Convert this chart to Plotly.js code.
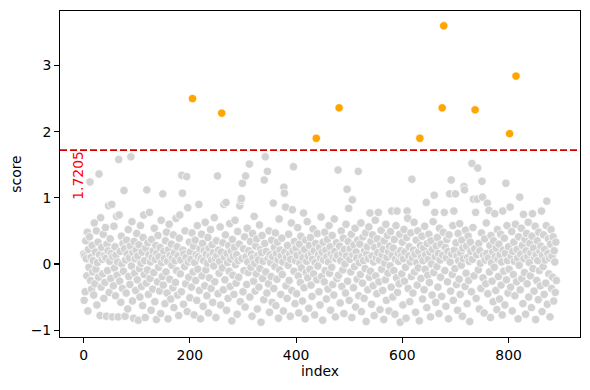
<!DOCTYPE html>
<html>
<head>
<meta charset="utf-8">
<script src="https://cdn.plot.ly/plotly-3.0.1.min.js"></script>
<style>html,body{margin:0;padding:0;background:#fff}#chart{width:590px;height:390px}</style>
</head>
<body>
<div id="chart"></div>
<script>
// score for each row index (0..890)
const scores = [
0.15,-0.55,0.12,-0.42,0.35,0.08,-0.18,0.48,-0.71,0.22,-0.05,0.41,1.24,-0.25,0.10,-0.38,0.28,-0.12,0.05,-0.47,
0.62,-0.30,0.18,-0.08,0.50,-0.62,0.02,0.33,-0.20,1.36,0.14,-0.78,0.70,-0.35,0.25,0.07,-0.15,0.45,-0.52,0.12,
-0.28,0.55,0.09,-0.79,0.30,-0.10,0.20,0.88,-0.43,0.04,0.38,-0.22,0.16,0.90,-0.80,0.11,-0.33,0.57,-0.06,0.26,
-0.48,0.13,0.72,-0.17,0.03,-0.80,1.58,0.74,-0.26,0.19,-0.58,0.42,0.00,-0.37,0.31,-0.11,1.11,0.23,-0.79,0.06,
-0.44,0.36,0.15,-0.68,0.52,-0.19,0.09,-0.31,0.27,1.62,-0.03,0.64,-0.56,0.17,-0.82,0.34,-0.14,0.08,-0.40,0.21,
0.46,-0.24,0.12,-0.85,0.29,-0.07,-0.50,0.58,0.01,-0.34,0.18,-0.63,0.40,0.74,-0.16,0.05,-0.81,0.24,-0.29,1.12,
-0.09,0.32,-0.46,0.14,0.78,-0.22,0.03,-0.70,0.37,0.10,-0.38,0.20,-0.13,0.54,-0.57,0.07,0.28,-0.84,0.16,-0.27,
0.43,-0.05,0.11,-0.41,0.25,-0.75,0.66,0.02,-0.19,1.06,-0.32,0.19,0.08,-0.60,0.35,-0.12,0.48,-0.44,0.04,-0.83,
0.22,0.60,-0.23,0.13,-0.53,0.30,-0.02,0.09,-0.36,0.44,-0.66,0.17,0.05,-0.28,0.69,-0.10,0.26,-0.47,0.12,-0.78,
0.39,0.74,-0.15,0.06,-0.42,1.34,1.07,0.21,-0.61,0.15,-0.04,0.50,-0.30,0.10,1.32,-0.72,0.85,0.03,-0.20,0.33,
-0.51,0.18,0.07,-0.35,0.47,2.50,-0.12,0.27,-0.77,0.02,0.36,-0.25,0.14,-0.55,0.58,-0.08,0.11,0.90,-0.40,0.23,
-0.83,0.08,0.45,-0.18,0.31,-0.64,0.05,0.20,-0.33,0.63,-0.09,0.15,-0.48,0.01,0.40,-0.74,0.24,-0.21,0.12,0.52,
-0.37,0.06,0.29,-0.58,0.17,-0.03,0.70,-0.27,0.09,-0.81,0.35,0.13,1.33,-0.45,0.21,-0.14,0.04,0.56,-0.62,0.18,
2.28,-0.06,0.32,-0.39,0.90,0.10,-0.24,0.44,0.93,-0.70,0.16,0.02,-0.52,0.28,-0.11,0.61,-0.34,0.07,0.19,-0.86,
0.37,-0.17,0.12,-0.46,0.25,0.66,-0.01,-0.29,0.14,-0.76,0.49,0.05,-0.20,0.30,0.88,-0.57,0.96,0.99,0.08,1.22,
-0.42,0.23,-0.10,0.41,-0.65,1.33,0.11,-0.31,0.54,0.03,-0.13,0.20,1.51,-0.50,0.34,-0.05,0.15,-0.79,0.46,0.09,
-0.26,0.72,0.01,-0.41,0.27,-0.15,0.38,-0.68,0.13,0.06,-0.35,0.59,-0.07,0.22,-0.88,0.17,0.43,-0.22,0.04,-0.54,
1.27,0.31,1.62,-0.12,0.19,-0.44,1.40,0.08,-0.30,0.50,-0.73,0.14,0.02,-0.19,0.36,-0.58,0.11,0.92,-0.37,0.25,
-0.04,0.47,-0.63,0.16,-0.23,0.33,0.06,-0.82,0.68,-0.09,0.21,-0.46,0.12,0.39,-0.16,0.03,-0.71,1.16,1.07,0.18,
0.86,-0.33,0.10,-0.52,0.28,-0.02,0.45,-0.25,0.15,-0.79,0.07,0.62,-0.40,0.82,0.20,1.47,-0.11,0.34,-0.60,0.05,
0.24,-0.45,0.13,0.55,-0.18,-0.74,0.30,0.01,-0.28,0.42,-0.06,0.17,-0.56,0.09,0.77,-0.36,0.22,-0.83,0.36,-0.13,
0.04,0.64,-0.21,0.12,-0.67,0.28,-0.08,0.40,-0.32,0.16,-0.49,0.07,0.53,-0.15,0.20,-0.77,0.02,0.31,1.90,-0.24,
0.46,-0.03,0.14,-0.42,0.25,-0.62,0.09,0.71,-0.19,0.18,-0.85,0.33,0.06,-0.27,0.48,-0.10,0.21,-0.53,0.11,0.37,
-0.38,0.03,0.58,-0.14,0.26,-0.70,0.15,-0.05,0.43,-0.31,0.10,-0.47,0.68,0.19,-0.80,0.08,0.32,-0.22,0.13,1.42,
-0.17,2.36,0.27,-0.59,0.05,0.50,-0.34,0.16,-0.09,0.39,-0.75,0.22,0.00,-0.44,0.60,0.12,1.13,-0.26,0.34,0.84,
-0.55,0.07,0.23,-0.12,0.45,-0.81,0.97,0.14,-0.36,0.29,-0.04,0.54,-0.65,0.18,0.09,-0.23,0.36,1.40,-0.48,0.02,
0.30,-0.16,0.62,-0.72,0.11,-0.29,0.41,0.05,-0.52,0.20,-0.07,0.47,-0.87,0.15,0.26,-0.39,0.08,0.56,-0.20,0.77,
-0.11,0.34,-0.61,0.12,0.44,-0.33,0.03,-0.78,0.25,0.66,-0.18,0.09,-0.45,0.38,0.17,0.78,-0.27,0.06,-0.69,0.29,
0.51,-0.08,0.14,-0.40,0.22,-0.84,0.35,0.01,-0.24,0.60,-0.55,0.10,0.43,-0.14,0.19,-0.71,0.27,-0.03,0.49,-0.35,
0.80,0.13,-0.50,0.24,-0.10,0.37,-0.76,0.07,0.58,-0.21,0.80,-0.43,0.16,0.04,-0.30,0.45,-0.88,0.20,0.11,-0.15,
0.33,-0.62,0.08,0.52,-0.26,0.18,-0.05,-0.82,0.40,0.80,0.69,-0.37,0.12,0.26,-0.57,0.03,0.47,-0.19,1.28,0.09,
-0.44,0.21,0.63,-0.12,0.15,-0.73,0.36,0.02,-0.32,0.50,-0.06,0.19,-0.86,1.90,0.28,-0.22,0.10,0.42,-0.53,0.05,
0.24,-0.39,0.57,-0.08,0.14,0.93,-0.66,0.31,-0.17,0.07,0.45,-0.28,0.18,-0.80,0.35,0.00,-0.47,0.22,0.64,-0.13,
1.04,0.78,0.11,-0.58,0.27,-0.04,0.40,-0.35,0.16,-0.75,0.54,0.06,-0.20,0.30,-0.49,2.36,0.13,0.48,3.60,0.78,
-0.10,0.25,-0.64,0.09,0.37,-0.27,0.19,-0.83,0.44,1.06,0.03,-0.41,1.27,0.15,-0.16,0.58,-0.55,0.80,0.21,-0.07,
1.06,0.32,-0.31,0.12,-0.70,0.46,0.05,-0.23,0.61,-0.46,0.17,-0.02,0.36,-0.79,0.24,0.08,1.17,1.12,-0.34,0.51,
-0.14,0.27,-0.60,0.10,0.42,-0.25,0.04,-0.87,0.33,0.19,-0.42,1.52,0.07,0.55,0.98,-0.18,0.23,2.33,0.78,-0.52,
0.14,0.98,1.45,-0.09,0.31,-0.68,0.20,0.01,-0.37,0.47,1.25,1.01,-0.21,0.13,-0.74,0.38,0.06,-0.30,0.62,0.16,
0.92,-0.45,0.09,0.81,-0.12,0.28,-0.81,0.43,0.02,-0.26,0.18,-0.57,0.35,-0.05,0.76,0.11,-0.40,0.24,-0.69,0.52,
0.07,-0.19,0.30,-0.53,0.14,0.45,-0.32,0.03,-0.77,0.80,0.21,-0.11,0.39,-0.62,0.16,1.22,-0.24,0.58,0.05,-0.44,
0.26,-0.08,1.97,0.86,-0.35,0.12,0.49,-0.71,0.19,-0.16,0.33,0.04,-0.48,0.60,2.84,-0.27,0.22,0.09,-0.83,0.41,
-0.02,1.01,-0.39,0.15,0.54,-0.22,0.28,-0.60,0.75,0.08,-0.13,0.37,-0.76,0.20,0.46,-0.30,0.11,0.63,-0.50,0.02,
0.31,-0.18,0.17,-0.66,0.42,0.76,-0.07,0.24,-0.41,0.10,0.57,-0.84,0.14,-0.25,0.35,0.05,-0.54,0.48,-0.10,0.19,
-0.33,0.27,0.80,-0.72,0.13,-0.04,0.44,-0.46,0.22,0.06,-0.29,0.58,0.95,-0.61,0.16,0.38,-0.15,0.09,-0.80,0.30,
0.52,-0.37,0.12,-0.20,0.41,-0.56,0.20,0.03,-0.43,0.33,-0.25
];
const threshold = 1.7205;
const thresholdLabel = "1.7205";
const xTicks = [0, 200, 400, 600, 800];
const yTicks = [-1, 0, 1, 2, 3];

const index = scores.map((_, i) => i);
const normX = [], normY = [], outX = [], outY = [];
index.forEach(i => {
  if (scores[i] > threshold) { outX.push(i); outY.push(scores[i]); }
  else { normX.push(i); normY.push(scores[i]); }
});

const font = {family: "DejaVu Sans, sans-serif", size: 13.9, color: "#000"};
const traces = [
  {x: normX, y: normY, type: "scatter", mode: "markers",
   marker: {color: "#d3d3d3", size: 8.4, line: {color: "#ffffff", width: 0.75}}, hoverinfo: "skip"},
  {x: outX, y: outY, type: "scatter", mode: "markers",
   marker: {color: "#ffa500", size: 8.4, line: {color: "#ffffff", width: 0.75}}, hoverinfo: "skip"}
];
const n = scores.length;
const ymin = Math.min(...scores), ymax = Math.max(...scores);
const xpad = (n - 1) * 0.05, ypad = (ymax - ymin) * 0.05;
const axisCommon = {showgrid: false, zeroline: false, showline: true, linecolor: "#000", linewidth: 1.1,
  mirror: true, ticks: "outside", ticklen: 4.9, tickwidth: 1.1, tickcolor: "#000", tickfont: font};
const layout = {
  width: 590, height: 390,
  margin: {l: 60, r: 10, t: 11, b: 53},
  paper_bgcolor: "#fff", plot_bgcolor: "#fff",
  showlegend: false, font: font,
  xaxis: Object.assign({}, axisCommon, {range: [-xpad, n - 1 + xpad], tickvals: xTicks, ticktext: xTicks.map(String),
    title: {text: "index", font: font, standoff: 3}}),
  yaxis: Object.assign({}, axisCommon, {range: [ymin - ypad, ymax + ypad], tickvals: yTicks,
    ticktext: yTicks.map(v => v < 0 ? "\u2212" + Math.abs(v) : String(v)),
    title: {text: "score", font: font, standoff: 5}}),
  shapes: [{type: "line", xref: "paper", x0: 0, x1: 1, yref: "y", y0: threshold, y1: threshold,
    line: {color: "#d40000", width: 1.8, dash: "7px,3px"}}],
  annotations: [{x: 0, y: threshold, xref: "x", yref: "y", text: thresholdLabel, showarrow: false,
    textangle: -90, font: {family: "DejaVu Sans, sans-serif", size: 13.9, color: "#ff0000"},
    xanchor: "center", yanchor: "middle", xshift: -5, yshift: -25}]
};
Plotly.newPlot("chart", traces, layout, {staticPlot: true, displayModeBar: false});
</script>
</body>
</html>
